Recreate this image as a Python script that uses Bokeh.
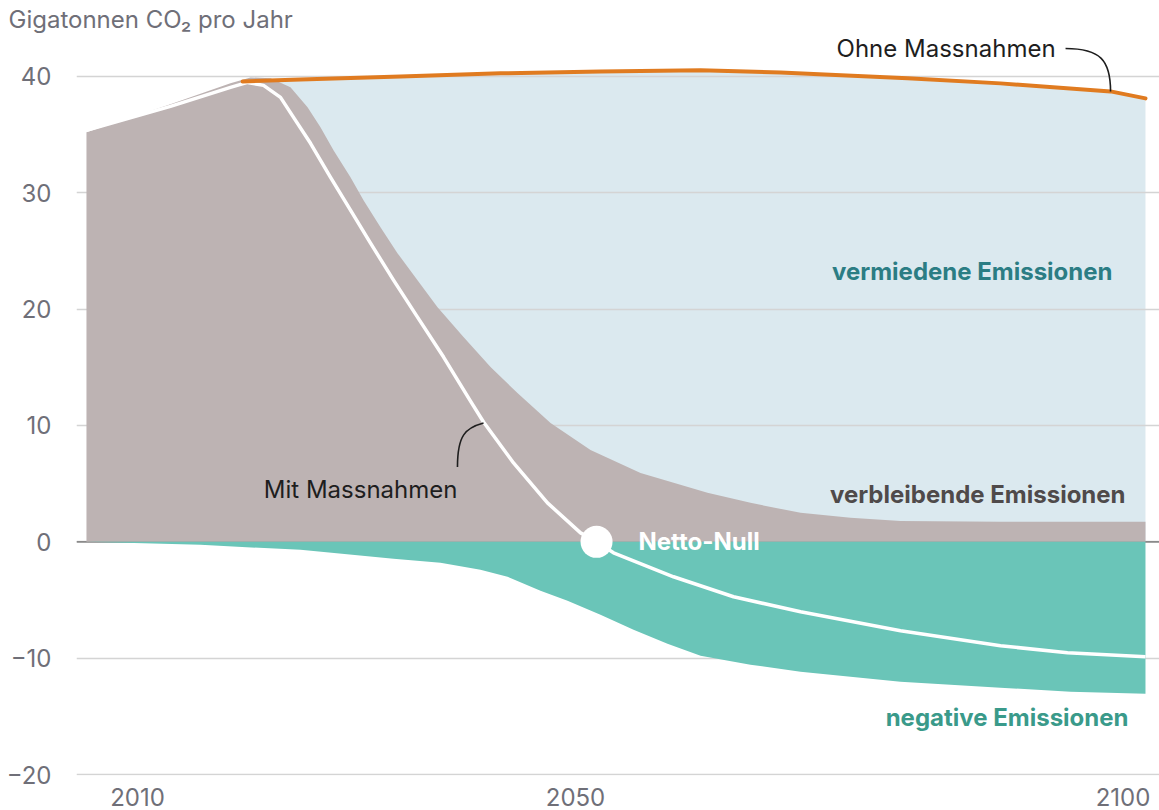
from bokeh.plotting import figure
from bokeh.models import Range1d, FixedTicker, Label, Span
from bokeh.embed import file_html
from bokeh.resources import INLINE

# ---------------- data ----------------
# gross emissions with measures (top of grey area = "verbleibende Emissionen")
gross_years = [2005.34, 2013.01, 2018.49, 2020.32, 2022.15, 2023.97, 2025.53, 2026.71, 2027.90,
               2029.45, 2030.64, 2032.19, 2033.74, 2035.57, 2037.40, 2039.77, 2042.24,
               2044.70, 2047.72, 2051.37, 2055.94, 2062.05, 2065.98, 2070.55, 2075.11,
               2079.68, 2088.81, 2102.05]
gross_vals = [35.19, 37.60, 39.40, 39.91, 39.83, 39.06, 37.34, 35.62, 33.65,
              31.33, 29.36, 27.04, 24.81, 22.49, 20.17, 17.60, 15.02,
              12.79, 10.21, 7.90, 5.92, 4.21, 3.35, 2.49, 2.06,
              1.80, 1.72, 1.72]

# net emissions "Mit Massnahmen" (white line)
net_years = [2005.34, 2013.01, 2018.49, 2020.05, 2021.51, 2023.06, 2024.25, 2025.80, 2027.63,
             2029.45, 2031.28, 2033.38, 2035.57, 2037.95, 2040.41, 2041.60, 2044.34,
             2047.44, 2050.46, 2051.92, 2053.47, 2058.95, 2064.43, 2070.55, 2079.68,
             2088.81, 2094.93, 2102.05]
net_vals = [35.36, 37.42, 39.06, 39.48, 39.23, 38.20, 36.48, 34.25, 31.33,
            28.50, 25.67, 22.49, 19.31, 15.88, 12.10, 10.30, 6.78,
            3.35, 0.77, 0.0, -0.94, -3.00, -4.72, -6.01, -7.64,
            -8.93, -9.53, -9.87]

# negative emissions (bottom of teal area)
neg_years = [2005.34, 2015.75, 2024.89, 2033.38, 2037.67, 2041.32, 2043.79, 2046.80, 2049.27,
             2052.28, 2055.30, 2058.40, 2061.42, 2065.98, 2070.55, 2079.68, 2088.81,
             2095.21, 2102.05]
neg_vals = [0.0, -0.26, -0.69, -1.46, -1.80, -2.40, -3.00, -4.21, -5.06,
            -6.27, -7.55, -8.76, -9.79, -10.56, -11.16, -12.02, -12.53,
            -12.88, -13.05]

# reference "Ohne Massnahmen" (orange line)
ref_years = [2019.60, 2024.89, 2034.02, 2043.15, 2052.28, 2061.42, 2068.72, 2080.32,
             2088.81, 2098.86, 2102.05]
ref_vals = [39.57, 39.74, 40.0, 40.26, 40.43, 40.52, 40.34, 39.83, 39.40, 38.71, 38.11]

# net zero point
netzero_year = [2051.92]
netzero_val = [0.0]

y_ticks = [-20, -10, 0, 10, 20, 30, 40]
y_tick_labels = ["\u221220", "\u221210", "0", "10", "20", "30", "40"]
x_ticks = [2010, 2050, 2100]
x_tick_labels = ["2010", "2050", "2100"]

zeros_gross = [0.0] * len(gross_years)
zeros_neg = [0.0] * len(neg_years)
zeros_ref = [0.0] * len(ref_years)

# ---------------- styling ----------------
FONT = "Inter"
C_BLUE = "#dbe9ef"
C_GREY = "#bdb3b3"
C_TEAL = "#6ac5b8"
C_ORANGE = "#e07b20"
C_AXIS = "#6f6f78"

p = figure(width=1159, height=810, output_backend="svg", toolbar_location=None,
           x_range=Range1d(2004.43, 2103.33), y_range=Range1d(-20.08, 43.6),
           min_border_left=76, min_border_right=0, min_border_top=34, min_border_bottom=35,
           title="Gigatonnen CO\u2082 pro Jahr")
p.outline_line_color = None
p.background_fill_color = "white"
p.title.align = "left"
p.title.offset = -68
p.title.standoff = 2
p.title.text_font = FONT
p.title.text_font_size = "24px"
p.title.text_font_style = "normal"
p.title.text_color = C_AXIS

# axes
p.yaxis.ticker = FixedTicker(ticks=y_ticks)
p.yaxis.major_label_overrides = dict(zip(y_ticks, y_tick_labels))
p.xaxis.ticker = FixedTicker(ticks=x_ticks)
p.xaxis.major_label_overrides = dict(zip(x_ticks, x_tick_labels))
for ax in (p.xaxis, p.yaxis):
    ax.axis_line_color = None
    ax.major_tick_line_color = None
    ax.minor_tick_line_color = None
    ax.major_label_text_font = FONT
    ax.major_label_text_font_size = "24px"
    ax.major_label_text_color = C_AXIS
p.yaxis.major_label_standoff = 19
p.xaxis.major_label_standoff = 6

p.xgrid.grid_line_color = None
p.ygrid.ticker = FixedTicker(ticks=y_ticks)
p.ygrid.grid_line_color = "#d4d4d4"
p.ygrid.grid_line_width = 1.6

# avoided emissions (below grid)
p.varea(x=ref_years, y1=zeros_ref, y2=ref_vals, fill_color=C_BLUE, level="image")
p.add_layout(Span(location=0, dimension="width", line_color="#8a8a8a", line_width=1.6,
                  level="underlay"))

# remaining gross emissions
p.varea(x=gross_years, y1=zeros_gross, y2=gross_vals, fill_color=C_GREY)
# negative emissions
p.varea(x=neg_years, y1=zeros_neg, y2=neg_vals, fill_color=C_TEAL)
# net line
p.line(net_years, net_vals, line_color="white", line_width=3.5, line_join="round")
# reference line
p.line(ref_years, ref_vals, line_color=C_ORANGE, line_width=4, line_cap="round",
       line_join="round")
# net zero dot
p.scatter(netzero_year, netzero_val, size=32, fill_color="white", line_color=None)

# ---------------- annotations ----------------
def lab(x, y, text, color, size="24px", align="left", style="normal"):
    p.add_layout(Label(x=x, y=y, text=text, text_font=FONT, text_font_size=size,
                       text_color=color, text_align=align, text_baseline="middle",
                       text_font_style=style))

lab(2093.84, 42.4, "Ohne Massnahmen", "#1e1e1e", align="right")
lab(2099.04, 23.26, "vermiedene Emissionen", "#2b7d84", align="right", style="bold")
lab(2100.23, 4.03, "verbleibende Emissionen", "#4f4a4a", align="right", style="bold")
lab(2039.22, 4.46, "Mit Massnahmen", "#1e1e1e", align="right")
lab(2055.75, 0.0, "Netto-Null", "white", style="bold")
lab(2100.5, -15.1, "negative Emissionen", "#3a9a8a", align="right", style="bold")

# leader lines
p.bezier(x0=[2094.75], y0=[42.4], x1=[2098.86], y1=[38.71],
         cx0=[2097.95], cy0=[42.4], cx1=[2098.86], cy1=[41.37],
         line_color="#1e1e1e", line_width=1.6)
p.bezier(x0=[2039.22], y0=[6.44], x1=[2041.60], y1=[10.21],
         cx0=[2039.22], cy0=[9.18], cx1=[2039.95], cy1=[9.79],
         line_color="#1e1e1e", line_width=1.6)

open("out.html", "w").write(file_html(p, INLINE))
